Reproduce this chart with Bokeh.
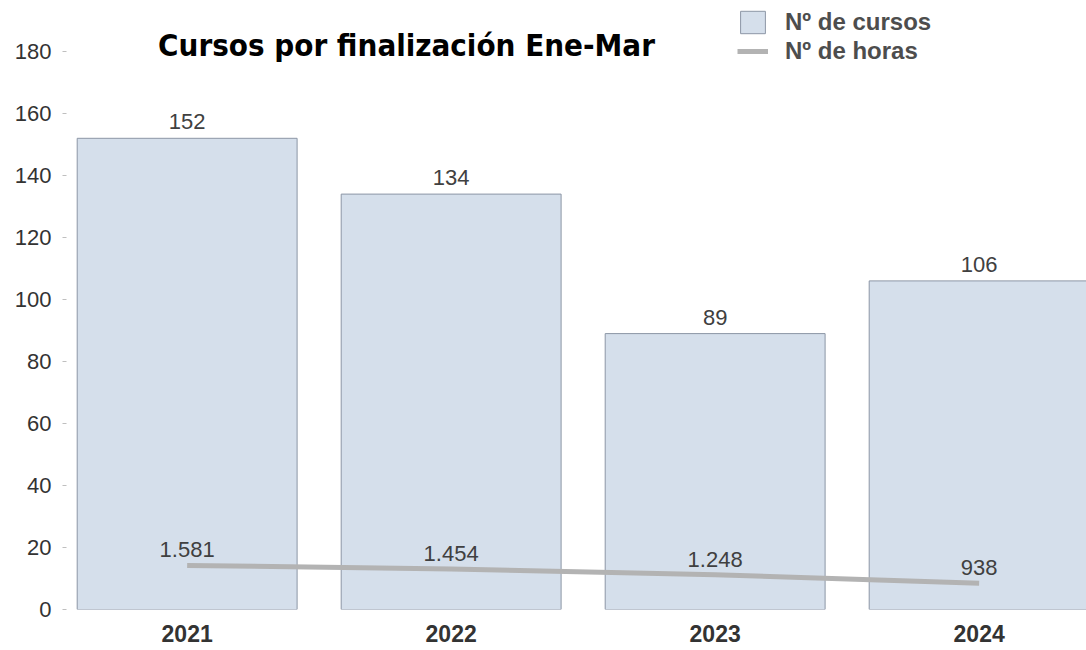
from bokeh.plotting import figure
from bokeh.models import (ColumnDataSource, FixedTicker, Range1d, LabelSet, Label,
                          Legend, LegendItem)
from bokeh.core.properties import value
from bokeh.embed import file_html
from bokeh.resources import INLINE

# ---- data ----
years = ["2021", "2022", "2023", "2024"]
cursos = [152, 134, 89, 106]
horas = [1581, 1454, 1248, 938]
y_ticks = [0, 20, 40, 60, 80, 100, 120, 140, 160, 180]
title_text = "Cursos por finalización Ene-Mar"
legend_labels = ["Nº de cursos", "Nº de horas"]

# ---- layout constants ----
W, H = 1086, 650
BORDER_L, BORDER_T, BORDER_B = 66, 8, 41
PX_PER_CAT = 264.0
FRAME_W = W - BORDER_L
FRAME_H = H - BORDER_T - BORDER_B
PX_PER_UNIT = 3.1
x_start = -0.457
x_end = x_start + FRAME_W / PX_PER_CAT
y_top = FRAME_H / PX_PER_UNIT
h_max = y_top * 20000 / 180.0

FONT = value("Liberation Sans")

xs = list(range(len(years)))
src = ColumnDataSource(dict(
    x=xs,
    cursos=cursos,
    horas=horas,
    cursos_lbl=[str(v) for v in cursos],
    horas_lbl=[f"{v:,}".replace(",", ".") for v in horas],
))

p = figure(width=W, height=H, output_backend="svg", toolbar_location=None,
           x_range=Range1d(x_start, x_end), y_range=Range1d(0, y_top),
           min_border_left=BORDER_L, min_border_right=0, min_border_top=BORDER_T,
           min_border_bottom=BORDER_B)
p.extra_y_ranges = {"h": Range1d(0, h_max)}
p.outline_line_color = None
p.xgrid.visible = False
p.ygrid.visible = False
p.background_fill_color = "white"
p.border_fill_color = "white"

bars = p.vbar(x="x", top="cursos", width=0.833, source=src,
              fill_color="#d5dfeb", line_color="#8c96a5", line_width=1)
line = p.line(x="x", y="horas", source=src, y_range_name="h",
              line_color="#b3b3b3", line_width=5)

p.add_layout(LabelSet(x="x", y="cursos", text="cursos_lbl", source=src,
                      text_align="center", text_baseline="alphabetic", y_offset=9,
                      text_font=FONT, text_font_size="22px",
                      text_color="#404040"))
p.add_layout(LabelSet(x="x", y="horas", text="horas_lbl", source=src, y_range_name="h",
                      text_align="center", text_baseline="alphabetic", y_offset=8,
                      text_font=FONT, text_font_size="22px",
                      text_color="#404040"))

# title
p.add_layout(Label(x=x_start + (406 - BORDER_L) / PX_PER_CAT,
                   y=(609 - 44) / PX_PER_UNIT,
                   text=title_text, text_align="center", text_baseline="middle",
                   text_font="DejaVu Sans Condensed",
                   text_font_style="bold", text_font_size="31px", text_color="#000000"))

# axes
yax = p.yaxis[0]
yax.ticker = FixedTicker(ticks=y_ticks)
yax.axis_line_color = None
yax.major_tick_line_color = "#bfbfbf"
yax.major_tick_out = 4
yax.major_tick_in = 0
yax.minor_tick_line_color = None
yax.major_label_standoff = 11
yax.major_label_text_font = "Liberation Sans"
yax.major_label_text_font_size = "22px"
yax.major_label_text_color = "#333333"

xax = p.xaxis[0]
xax.ticker = FixedTicker(ticks=xs)
xax.major_label_overrides = {i: y for i, y in zip(xs, years)}
xax.axis_line_color = None
xax.major_tick_line_color = None
xax.minor_tick_line_color = None
xax.major_label_standoff = 9
xax.major_label_text_font = "Liberation Sans"
xax.major_label_text_font_style = "bold"
xax.major_label_text_font_size = "23px"
xax.major_label_text_color = "#333333"

legend = Legend(items=[LegendItem(label=legend_labels[0], renderers=[bars]),
                       LegendItem(label=legend_labels[1], renderers=[line])],
                location=(737 - BORDER_L, FRAME_H - 57), orientation="vertical",
                padding=0, margin=0, spacing=1,
                glyph_width=31, glyph_height=28, label_height=28, label_standoff=17,
                label_text_font="Liberation Sans", label_text_font_style="bold",
                label_text_font_size="24px", label_text_color="#4d4d4d",
                border_line_color=None, background_fill_alpha=0)
p.add_layout(legend)

open("out.html", "w").write(file_html(p, INLINE))
